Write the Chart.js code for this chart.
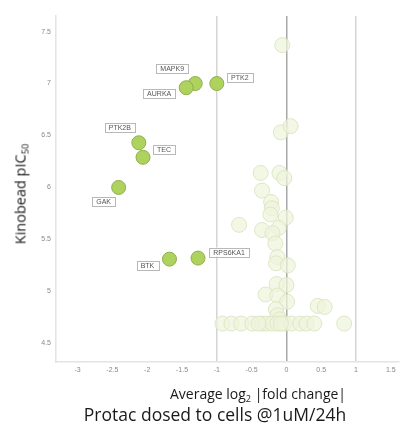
<!DOCTYPE html>
<html>
<head>
<meta charset="utf-8">
<script src="https://cdn.jsdelivr.net/npm/chart.js@4"></script>
<style>
  body { margin: 0; background: #fff; }
  #wrap { position: relative; width: 407px; height: 423px; font-family: "Open Sans", Lato, sans-serif; }
  #chart { position: absolute; left: 0; top: 0; }
  .ytitle { position: absolute; left: 20px; top: 194px; transform: translate(-50%, -50%) rotate(-90deg); font-size: 14.5px; color: #1a1a1a; white-space: nowrap; }
  .xtitle { position: absolute; left: 258px; top: 393px; transform: translate(-50%, -50%); font-size: 14px; color: #1a1a1a; white-space: nowrap; }
  .caption { position: absolute; left: 215px; top: 414px; transform: translate(-50%, -50%); font-size: 17.5px; color: #1a1a1a; white-space: nowrap; }
  sub { font-size: 65%; vertical-align: -3px; line-height: 0; }
</style>
</head>
<body>
<div id="wrap">
  <canvas id="chart" width="407" height="423"></canvas>
  <div class="ytitle">Kinobead pIC<sub>50</sub></div>
  <div class="xtitle">Average log<sub>2</sub> |fold change|</div>
  <div class="caption">Protac dosed to cells @1uM/24h</div>
</div>
<script>
// kinases hit by the protac
const hitNames = ['MAPK9', 'AURKA', 'PTK2', 'PTK2B', 'TEC', 'GAK', 'BTK', 'RPS6KA1'];
const hitFold = [-1.31, -1.44, -1.00, -2.12, -2.06, -2.41, -1.68, -1.27];
const hitPic = [7.00, 6.96, 7.00, 6.43, 6.29, 6.00, 5.31, 5.32];

// everything else that bound the beads
const restFold = [-0.06, -0.08, 0.06, -0.37, -0.10, -0.03, -0.35, -0.22, -0.21, -0.23, -0.01,
  -0.68, -0.35, -0.11, -0.20, -0.16, -0.13, -0.15, 0.02, -0.14, 0.00, -0.30, -0.13, 0.01,
  0.45, 0.55, -0.15, -0.13, -0.10,
  -0.92, -0.79, -0.65, -0.49, -0.35, -0.29, -0.20, -0.13, -0.03, 0.07, 0.20, 0.29, 0.40, 0.83, -0.40, -0.08];
const restPic = [7.37, 6.53, 6.59, 6.14, 6.14, 6.09, 5.97, 5.86, 5.80, 5.74, 5.71,
  5.64, 5.59, 5.61, 5.56, 5.46, 5.33, 5.27, 5.25, 5.07, 5.06, 4.97, 4.96, 4.90,
  4.86, 4.85, 4.83, 4.77, 4.73,
  4.69, 4.69, 4.69, 4.69, 4.69, 4.69, 4.69, 4.69, 4.69, 4.69, 4.69, 4.69, 4.69, 4.69, 4.69, 4.69];

const xTicks = [-3, -2.5, -2, -1.5, -1, -0.5, 0, 0.5, 1, 1.5];
const yTicks = [4.5, 5, 5.5, 6, 6.5, 7, 7.5];

// where each name tag sits relative to its point (px)
const tagOffset = {
  MAPK9: [-23, -15], AURKA: [-27, 6], PTK2: [23, -6], PTK2B: [-19, -15],
  TEC: [21, -8], GAK: [-15, 14], BTK: [-22, 6], RPS6KA1: [31, -6]
};

const tags = {
  id: 'tags',
  afterDatasetsDraw(chart) {
    const ctx = chart.ctx;
    const xs = chart.scales.x, ys = chart.scales.y;
    ctx.save();
    ctx.font = '7px "Liberation Sans", Arial, sans-serif';
    ctx.textAlign = 'center';
    ctx.textBaseline = 'middle';
    hitNames.forEach((name, i) => {
      const off = tagOffset[name];
      const cx = xs.getPixelForValue(hitFold[i]) + off[0];
      const cy = ys.getPixelForValue(hitPic[i]) + off[1];
      const w = ctx.measureText(name).width + 8;
      const h = 9;
      ctx.fillStyle = '#fff';
      ctx.fillRect(cx - w / 2, cy - h / 2, w, h);
      ctx.strokeStyle = '#b8b8b8';
      ctx.lineWidth = 1;
      ctx.strokeRect(Math.round(cx - w / 2) + 0.5, Math.round(cy - h / 2) + 0.5, Math.round(w), h);
      ctx.fillStyle = '#555';
      ctx.fillText(name, cx, cy + 0.5);
    });
    ctx.restore();
  }
};

function gridColour(c) {
  const v = c.tick && c.tick.value;
  if (v === 0) return '#a8a8a8';
  if (v === -1 || v === 1) return '#d4d4d4';
  return 'rgba(0,0,0,0)';
}

new Chart(document.getElementById('chart'), {
  type: 'scatter',
  data: {
    datasets: [
      {
        data: restFold.map((x, i) => ({ x: x, y: restPic[i] })),
        backgroundColor: 'rgba(239,244,221,0.72)',
        borderColor: 'rgba(220,228,192,0.9)',
        borderWidth: 1,
        pointRadius: 7.5
      },
      {
        data: hitFold.map((x, i) => ({ x: x, y: hitPic[i] })),
        backgroundColor: '#add35e',
        borderColor: '#8fae4c',
        borderWidth: 1,
        pointRadius: 7
      }
    ]
  },
  options: {
    responsive: false,
    animation: false,
    layout: { padding: { left: 0, top: 16, right: 0, bottom: 43 } },
    plugins: { legend: { display: false }, tooltip: { enabled: false } },
    scales: {
      x: {
        type: 'linear',
        min: -3.31,
        max: 1.61,
        afterBuildTicks: s => { s.ticks = xTicks.map(v => ({ value: v })); },
        afterFit: s => { s.height = 18; },
        grid: { color: gridColour, lineWidth: 1.5, drawTicks: false },
        border: { color: '#e4e4e4', width: 1.5 },
        ticks: { color: '#888', font: { size: 7, family: '"Liberation Sans", Arial' }, padding: 4, callback: v => String(v) }
      },
      y: {
        type: 'linear',
        min: 4.32,
        max: 7.65,
        afterBuildTicks: s => { s.ticks = yTicks.map(v => ({ value: v })); },
        afterFit: s => { s.width = 56; },
        grid: { display: false, drawTicks: false },
        border: { color: '#e4e4e4', width: 1.5 },
        ticks: { color: '#888', font: { size: 7, family: '"Liberation Sans", Arial' }, padding: 5, callback: v => String(v) }
      }
    }
  },
  plugins: [tags]
});
</script>
</body>
</html>
